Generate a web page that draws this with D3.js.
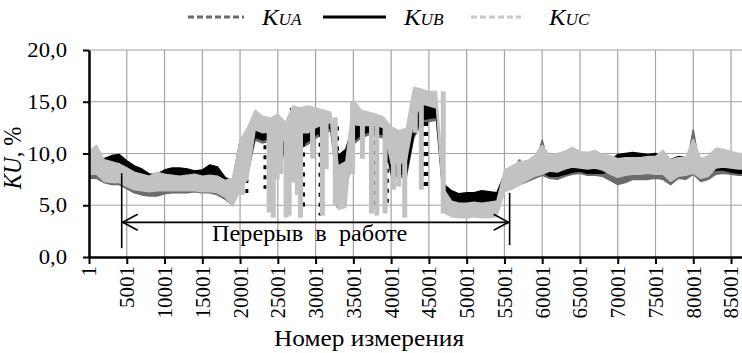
<!DOCTYPE html>
<html>
<head>
<meta charset="utf-8">
<script src="https://cdnjs.cloudflare.com/ajax/libs/d3/7.8.5/d3.min.js"></script>
<style>
  body { margin: 0; background: #fff; }
</style>
</head>
<body>
<div id="chart"></div>
<script>
const FONT = "Liberation Serif";
const STRETCH = 1.08; // the source figure is a little wider than tall

// sampling grid: one reading every 1000 measurements
const sampleNo = d3.range(1, 87002, 1000);

const xTicks = [1, 5001, 10001, 15001, 20001, 25001, 30001, 35001, 40001, 45001,
  50001, 55001, 60001, 65001, 70001, 75001, 80001, 85001];
const yTicks = [0, 5, 10, 15, 20];

// band of each series (min / max over each 1000 measurements), %
const kuaLow = [7.6, 7.6, 7.2, 7.0, 7.0, 6.6, 6.2, 6.0, 5.9, 5.9,
  6.1, 6.2, 6.2, 6.2, 6.3, 6.2, 6.2, 6.0, 5.6, 5.0,
  6.5, 8.0, 11.3, 11.0, 11.2, 11.3, 9.3, 11.7, 10.5, 10.9,
  11.5, 11.9, 12.2, 6.0, 6.0, 10.9, 11.5, 11.8, 11.7, 11.5,
  7.9, 7.7, 7.7, 11.5, 12.9, 13.1, 13.2, 5.0, 4.6, 4.5,
  4.5, 4.6, 4.5, 4.5, 4.6, 6.5, 6.6, 7.0, 7.3, 7.6,
  7.9, 7.6, 7.5, 7.8, 8.0, 8.1, 7.9, 7.9, 7.8, 7.4,
  7.0, 7.2, 7.5, 7.5, 7.5, 7.6, 7.5, 7.0, 7.6, 7.5,
  8.0, 7.3, 7.5, 8.0, 8.1, 8.0, 7.9, 7.9];
const kuaHigh = [8.8, 8.4, 8.0, 7.8, 7.8, 7.4, 7.0, 6.8, 6.6, 6.6,
  6.8, 6.8, 6.9, 6.9, 7.0, 6.9, 6.9, 6.8, 6.5, 6.3,
  10.0, 10.0, 12.2, 11.9, 12.0, 12.0, 11.0, 12.8, 11.8, 11.8,
  12.4, 12.8, 12.9, 8.0, 8.5, 12.5, 12.5, 12.6, 12.5, 12.3,
  8.8, 8.8, 9.0, 14.0, 15.0, 14.8, 14.6, 6.0, 5.6, 5.5,
  5.5, 5.5, 5.5, 5.5, 5.6, 7.8, 8.2, 9.4, 8.4, 8.6,
  11.3, 8.4, 8.4, 8.7, 9.0, 8.9, 8.7, 8.7, 8.6, 8.3,
  7.9, 8.0, 8.3, 8.3, 8.2, 8.3, 8.3, 7.8, 8.2, 8.3,
  12.3, 8.0, 8.2, 8.8, 8.9, 8.7, 8.6, 8.6];

const kubLow = [8.5, 8.5, 8.8, 9.0, 9.2, 8.2, 8.0, 7.6, 7.3, 7.3,
  7.6, 7.8, 7.8, 7.8, 7.6, 7.4, 7.8, 7.6, 6.8, 6.5,
  8.0, 8.5, 11.6, 11.3, 11.5, 11.6, 9.6, 12.0, 10.8, 11.2,
  11.8, 12.2, 12.5, 8.8, 9.2, 11.2, 11.8, 12.1, 12.0, 11.8,
  8.2, 8.0, 8.0, 11.8, 13.2, 13.4, 13.5, 5.5, 5.2, 5.1,
  5.0, 5.1, 5.2, 5.0, 4.9, 7.4, 7.5, 7.7, 7.9, 8.1,
  8.2, 7.8, 7.8, 8.0, 8.2, 8.3, 8.1, 8.1, 8.1, 8.3,
  9.3, 9.4, 9.5, 9.4, 9.3, 9.3, 9.0, 8.8, 9.2, 9.0,
  8.8, 8.5, 8.2, 8.4, 8.4, 8.2, 8.1, 8.1];
const kubHigh = [9.5, 9.4, 9.5, 9.8, 9.9, 9.3, 8.8, 8.5, 8.0, 8.0,
  8.4, 8.6, 8.6, 8.5, 8.3, 8.4, 8.9, 8.7, 7.7, 7.3,
  11.2, 10.5, 12.4, 12.0, 12.2, 12.4, 11.2, 13.1, 12.0, 12.0,
  12.6, 12.9, 13.1, 9.8, 10.4, 12.8, 12.8, 12.8, 12.8, 12.6,
  9.0, 9.0, 9.2, 13.2, 14.8, 14.6, 14.4, 7.0, 6.4, 6.1,
  6.2, 6.2, 6.4, 6.3, 6.2, 8.0, 8.0, 8.3, 8.5, 8.7,
  8.8, 8.6, 8.6, 8.9, 9.2, 9.0, 8.8, 8.8, 8.7, 9.3,
  9.9, 10.0, 10.1, 10.0, 9.9, 10.0, 9.7, 9.4, 9.7, 9.6,
  9.4, 9.2, 9.0, 9.4, 9.3, 8.9, 8.7, 8.7];

const kucLow = [8.0, 8.0, 7.3, 7.2, 7.2, 6.8, 6.5, 6.4, 6.3, 6.4,
  6.4, 6.4, 6.4, 6.4, 6.4, 6.3, 6.3, 6.2, 5.8, 4.9,
  6.5, 7.5, 12.3, 12.0, 12.1, 12.3, 11.0, 13.0, 12.0, 12.0,
  12.5, 12.8, 13.0, 4.6, 4.8, 12.8, 12.7, 12.7, 12.7, 12.5,
  9.0, 9.0, 9.2, 13.2, 14.8, 14.6, 14.4, 4.3, 3.9, 3.8,
  3.8, 3.9, 3.8, 3.8, 3.9, 6.3, 6.6, 7.0, 7.4, 7.8,
  8.0, 8.3, 8.2, 8.5, 8.7, 8.6, 8.5, 8.6, 8.4, 8.0,
  7.7, 7.9, 8.0, 8.0, 8.1, 8.0, 8.0, 7.3, 7.8, 7.9,
  8.1, 7.6, 7.8, 8.6, 8.7, 8.6, 8.5, 8.5];
const kucHigh = [10.2, 10.8, 9.4, 9.2, 9.0, 8.6, 8.2, 8.0, 7.8, 8.2,
  8.0, 7.9, 7.8, 7.9, 8.0, 7.8, 7.9, 7.8, 7.4, 7.6,
  11.3, 12.5, 14.2, 13.6, 13.4, 13.8, 13.0, 14.6, 14.4, 14.6,
  14.4, 14.2, 14.0, 8.8, 9.2, 15.2, 14.2, 14.0, 13.8, 13.5,
  12.6, 12.2, 12.4, 16.4, 16.2, 16.0, 16.0, 6.5, 5.4, 5.2,
  5.2, 5.3, 5.2, 5.3, 5.4, 8.4, 8.8, 9.2, 9.3, 9.8,
  10.8, 9.8, 10.0, 10.2, 10.6, 10.2, 10.1, 10.3, 9.9, 9.8,
  9.5, 9.6, 9.6, 9.6, 9.7, 9.7, 10.3, 9.4, 9.6, 9.6,
  11.4, 9.5, 9.8, 10.5, 10.4, 10.2, 10.0, 10.0];

// short dropouts during the unstable period: measurement no., from, to (%)
const kucDropAt = [20300, 23850, 24400, 24900, 25400, 26100, 26500, 27000, 27600, 28000,
  29600, 30900, 31400, 32600, 34900, 36200, 37400, 38100, 39200, 40300,
  41000, 41800, 43200, 44000, 46900];
const kucDropTop = [11.5, 13.0, 13.0, 13.2, 13.4, 13.0, 13.5, 14.2, 14.0, 14.0,
  14.2, 14.0, 14.0, 13.5, 15.0, 14.0, 13.8, 13.5, 13.0, 12.4,
  12.2, 12.4, 16.0, 15.8, 16.0];
const kucDropBottom = [6.0, 4.3, 3.8, 7.5, 8.0, 3.8, 4.0, 7.2, 6.0, 3.8,
  9.5, 4.0, 8.5, 5.0, 8.0, 9.5, 4.2, 4.0, 4.2, 6.5,
  6.8, 3.8, 12.0, 6.5, 4.2];

const kubDropAt = [20900, 23300, 25600, 26800, 28400, 30600, 32900, 37700, 39500, 40900, 44300, 44700];
const kubDropTop = [8.5, 10.8, 11.2, 14.4, 13.0, 12.0, 12.6, 12.2, 12.4, 11.0, 14.0, 14.0];
const kubDropBottom = [6.1, 6.6, 9.5, 12.8, 4.4, 4.0, 4.8, 4.9, 4.8, 7.0, 6.5, 6.3];

// work break annotation (measurement no. / %)
const breakFrom = 4330;
const breakTo = 55690;
const breakLevel = 3.35;

class KuChart {
  constructor(parentId) {
    this.parentElement = document.getElementById(parentId);
    this.width = 742;
    this.height = 353;
    this.initVis();
  }

  initVis() {
    this.svg = d3.select(this.parentElement)
      .append("svg")
      .attr("width", this.width)
      .attr("height", this.height)
      .attr("font-family", FONT);

    this.x = d3.scaleLinear().domain([1, 86401]).range([89, 741.6]);
    this.y = d3.scaleLinear().domain([0, 20]).range([257, 50]);

    this.svg.append("defs").append("clipPath")
      .attr("id", "plot-clip")
      .append("rect")
      .attr("x", 89).attr("y", 50)
      .attr("width", 653).attr("height", 207);

    this.drawGrid();
    this.drawSeries();
    this.drawAxes();
    this.drawAnnotation();
    this.drawLegend();
  }

  // horizontal text, widened like the source figure
  label(x, y, size) {
    return this.svg.append("text")
      .attr("transform", `translate(${x},${y}) scale(${STRETCH},1)`)
      .attr("font-family", FONT)
      .attr("font-size", size);
  }

  drawGrid() {
    const x = this.x, y = this.y;
    this.svg.selectAll(".hgrid")
      .data(yTicks.slice(1))
      .join("line")
      .attr("class", "hgrid")
      .attr("x1", 89).attr("x2", 742)
      .attr("y1", d => y(d)).attr("y2", d => y(d))
      .attr("stroke", "#a3a3a3").attr("stroke-width", 1.2);

    this.svg.selectAll(".vgrid")
      .data(xTicks.slice(1))
      .join("line")
      .attr("class", "vgrid")
      .attr("x1", d => x(d)).attr("x2", d => x(d))
      .attr("y1", y(20)).attr("y2", y(0))
      .attr("stroke", "#a3a3a3").attr("stroke-width", 1.2);
  }

  drawSeries() {
    const x = this.x, y = this.y;
    const series = [
      { lo: kuaLow, hi: kuaHigh, color: "#6b6b6b" },
      { lo: kubLow, hi: kubHigh, color: "#000000" },
      { lo: kucLow, hi: kucHigh, color: "#c2c2c2" }
    ];
    const plot = this.svg.append("g").attr("clip-path", "url(#plot-clip)");

    series.forEach((s, si) => {
      const area = d3.area()
        .x((d, i) => x(sampleNo[i]))
        .y0((d, i) => y(s.lo[i]))
        .y1((d, i) => y(s.hi[i]));
      plot.append("path")
        .datum(sampleNo)
        .attr("d", area)
        .attr("fill", s.color)
        .attr("stroke", s.color)
        .attr("stroke-width", 1.5)
        .attr("stroke-linejoin", "bevel");

      if (si === 1) {
        plot.selectAll(".drop-b")
          .data(kubDropAt)
          .join("line")
          .attr("class", "drop-b")
          .attr("x1", d => x(d)).attr("x2", d => x(d))
          .attr("y1", (d, i) => y(kubDropTop[i]))
          .attr("y2", (d, i) => y(kubDropBottom[i]))
          .attr("stroke", "#000")
          .attr("stroke-width", 3)
          .attr("stroke-dasharray", "4,6");
      }
    });

    plot.selectAll(".drop-c")
      .data(kucDropAt)
      .join("line")
      .attr("class", "drop-c")
      .attr("x1", d => x(d)).attr("x2", d => x(d))
      .attr("y1", (d, i) => y(kucDropTop[i]))
      .attr("y2", (d, i) => y(kucDropBottom[i]))
      .attr("stroke", "#c2c2c2")
      .attr("stroke-width", 5);
  }

  drawAxes() {
    const fmt = d => d3.format(".1f")(d).replace(".", ",");

    const yAxis = this.svg.append("g")
      .attr("transform", "translate(89,0)")
      .call(d3.axisLeft(this.y).tickValues(yTicks).tickFormat(fmt)
        .tickSize(6).tickSizeOuter(0))
      .attr("font-family", FONT)
      .attr("font-size", 21);
    yAxis.select(".domain").attr("stroke", "#000").attr("stroke-width", 2.5);
    yAxis.selectAll(".tick line").attr("stroke", "#000").attr("stroke-width", 2);
    yAxis.selectAll("text")
      .attr("fill", "#000")
      .attr("transform", `scale(${STRETCH},1)`)
      .attr("x", -22 / STRETCH);

    const xAxis = this.svg.append("g")
      .attr("transform", "translate(0,257)")
      .call(d3.axisBottom(this.x).tickValues(xTicks).tickFormat(d3.format("d"))
        .tickSize(7).tickSizeOuter(0))
      .attr("font-family", FONT)
      .attr("font-size", 21);
    xAxis.select(".domain").attr("stroke", "#000").attr("stroke-width", 2.5);
    xAxis.selectAll(".tick line").attr("stroke", "#000").attr("stroke-width", 2);
    xAxis.selectAll("text")
      .attr("fill", "#000")
      .attr("transform", "rotate(-90)")
      .attr("x", -9)
      .attr("y", 0)
      .attr("dy", "0.33em")
      .attr("text-anchor", "end");

    this.label(369, 346, 23.5)
      .attr("text-anchor", "middle")
      .text("Номер измерения");

    const yTitle = this.svg.append("text")
      .attr("transform", `translate(21,158) scale(${STRETCH},1) rotate(-90)`)
      .attr("text-anchor", "middle")
      .attr("font-family", FONT)
      .attr("font-size", 23);
    yTitle.append("tspan").attr("font-style", "italic").text("KU");
    yTitle.append("tspan").text(", %");
  }

  drawAnnotation() {
    const x = this.x, y = this.y;
    const g = this.svg.append("g")
      .attr("stroke", "#000").attr("stroke-width", 1.6).attr("fill", "none");
    const x0 = x(breakFrom), x1 = x(breakTo), ay = y(breakLevel);

    g.append("line").attr("x1", x0).attr("x2", x0).attr("y1", y(8.1)).attr("y2", y(0.85));
    g.append("line").attr("x1", x1).attr("x2", x1).attr("y1", y(6.2)).attr("y2", y(1.15));
    g.append("line").attr("x1", x0).attr("x2", x1).attr("y1", ay).attr("y2", ay);
    g.append("path").attr("d", `M${x0 + 16},${ay - 8}L${x0 + 1},${ay}L${x0 + 16},${ay + 8}`);
    g.append("path").attr("d", `M${x1 - 16},${ay - 8}L${x1 - 1},${ay}L${x1 - 16},${ay + 8}`);

    this.label((x0 + x1) / 2 - 6, ay + 19, 22.5)
      .attr("text-anchor", "middle")
      .style("white-space", "pre")
      .text("Перерыв  в  работе");
  }

  drawLegend() {
    const items = [
      { sub: "UA", color: "#6b6b6b", dash: "6,3", x: 188 },
      { sub: "UB", color: "#000000", dash: null, x: 323 },
      { sub: "UC", color: "#c8c8c8", dash: "6,3", x: 471 }
    ];
    const ly = 17;
    items.forEach((d, i) => {
      const len = i === 2 ? 50 : (i === 1 ? 63 : 56);
      this.svg.append("line")
        .attr("x1", d.x).attr("x2", d.x + len)
        .attr("y1", ly).attr("y2", ly)
        .attr("stroke", d.color)
        .attr("stroke-width", 3)
        .attr("stroke-dasharray", d.dash);
      const t = this.label(d.x + len + (i === 2 ? 28 : 18), ly + 8, 23)
        .attr("font-style", "italic");
      t.append("tspan").text("K");
      t.append("tspan").attr("font-size", 16).text(d.sub);
    });
  }
}

new KuChart("chart");
</script>
</body>
</html>
